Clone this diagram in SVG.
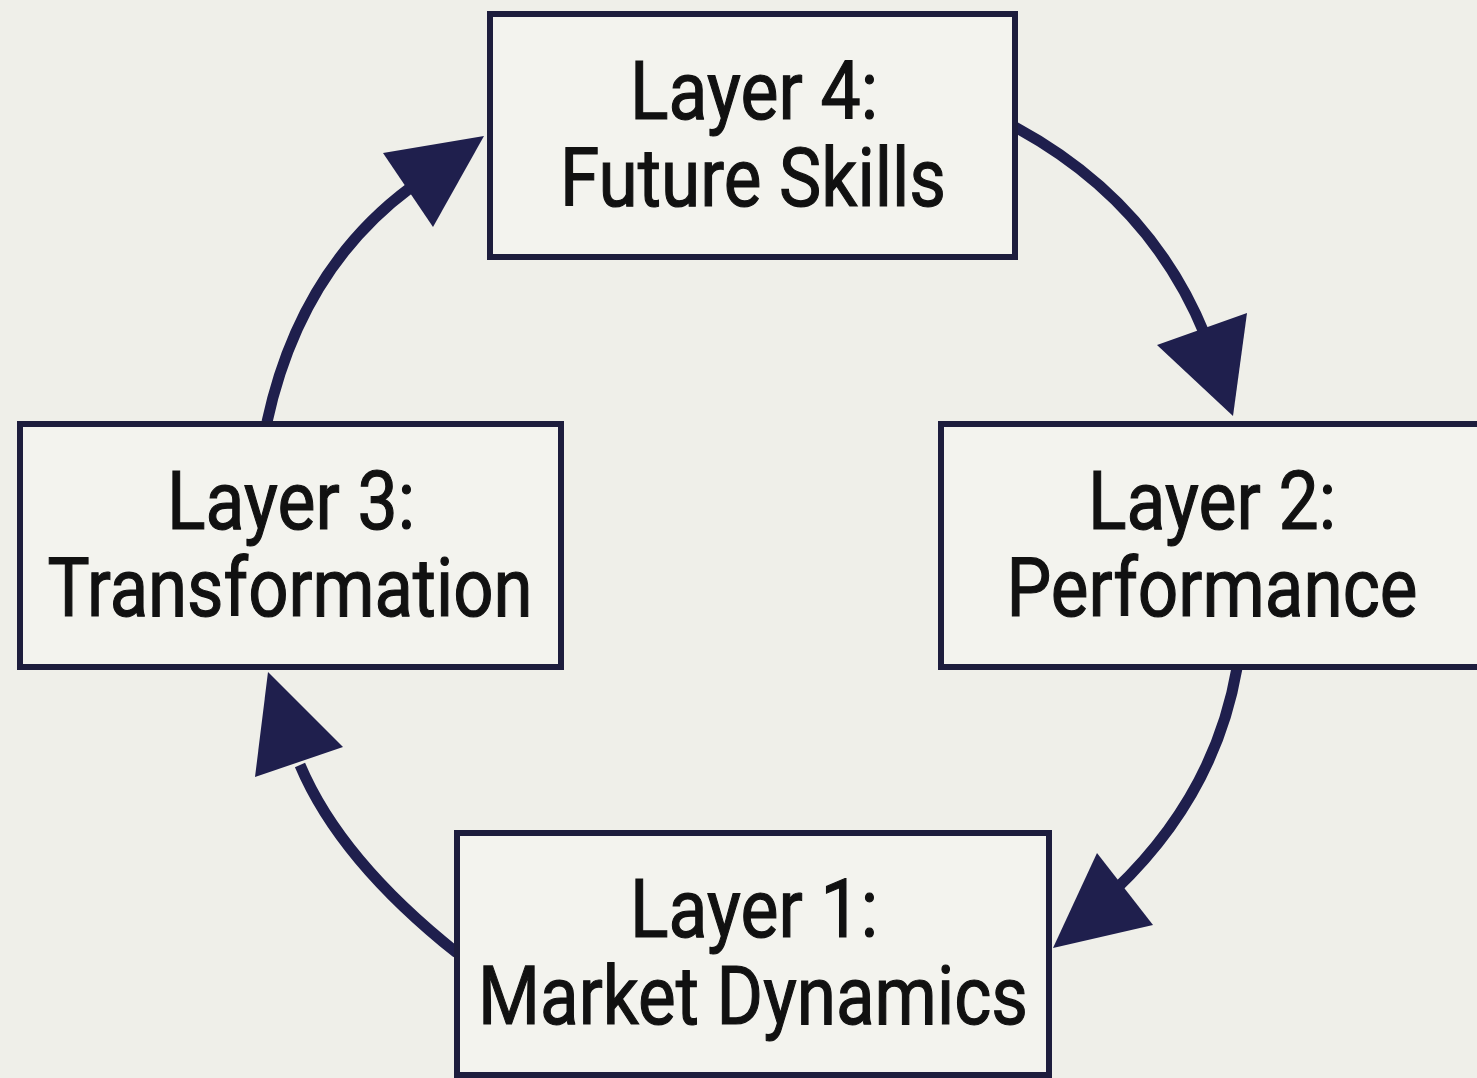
<svg xmlns="http://www.w3.org/2000/svg" width="1477" height="1078" viewBox="0 0 1477 1078">
  <style>
    .bg { fill: #efefe9; }
    .box { fill: #f3f3ee; stroke: #1d1d3d; stroke-width: 6; }
    .lbl { font-family: Roboto, "Liberation Sans", sans-serif; font-size: 82px; fill: #111111; stroke: #111111; stroke-width: 1.2; text-anchor: middle; }
    .shaft { fill: none; stroke: #1f1f4d; stroke-width: 11; stroke-linecap: butt; }
    .head { fill: #1f1f4d; }
  </style>
  <rect class="bg" x="0" y="0" width="1477" height="1078"/>

  <g id="connectors">
    <path class="shaft" d="M1015,127 Q1150,200 1205,335"/>
    <polygon class="head" points="1157,345 1247,313 1233,416"/>
    <path class="shaft" d="M1237,668 Q1215,795 1115,890"/>
    <polygon class="head" points="1097,853 1153,925 1053,948"/>
    <path class="shaft" d="M457,953 Q340,860 300,765"/>
    <polygon class="head" points="255,777 343,747 268,672"/>
    <path class="shaft" d="M267,422 Q300,270 410,188"/>
    <polygon class="head" points="383,153 433,227 484,136"/>
  </g>

  <g id="layer4">
    <rect class="box" x="490" y="14" width="525" height="243"/>
    <text class="lbl" x="754" y="119" textLength="248" lengthAdjust="spacingAndGlyphs">Layer 4:</text>
    <text class="lbl" x="753" y="206" textLength="386" lengthAdjust="spacingAndGlyphs">Future Skills</text>
  </g>

  <g id="layer3">
    <rect class="box" x="20" y="424" width="541" height="243"/>
    <text class="lbl" x="291" y="529" textLength="248" lengthAdjust="spacingAndGlyphs">Layer 3:</text>
    <text class="lbl" x="290" y="616" textLength="485" lengthAdjust="spacingAndGlyphs">Transformation</text>
  </g>

  <g id="layer2">
    <rect class="box" x="941" y="424" width="545" height="243"/>
    <text class="lbl" x="1212" y="529" textLength="248" lengthAdjust="spacingAndGlyphs">Layer 2:</text>
    <text class="lbl" x="1212" y="616" textLength="411" lengthAdjust="spacingAndGlyphs">Performance</text>
  </g>

  <g id="layer1">
    <rect class="box" x="457" y="833" width="592" height="242"/>
    <text class="lbl" x="754" y="937" textLength="248" lengthAdjust="spacingAndGlyphs">Layer 1:</text>
    <text class="lbl" x="753" y="1024" textLength="550" lengthAdjust="spacingAndGlyphs">Market Dynamics</text>
  </g>
</svg>
